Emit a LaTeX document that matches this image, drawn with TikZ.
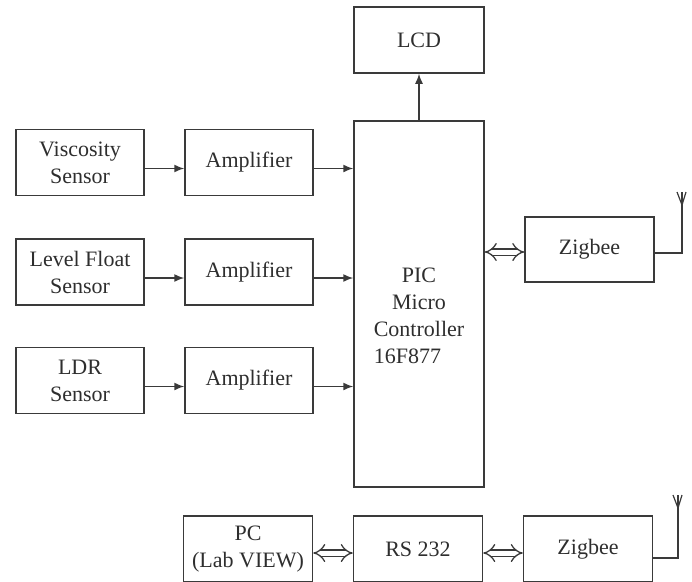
\documentclass[tikz,border=0pt]{standalone}
\usepackage{fontspec}
\setmainfont{Liberation Serif}
\usepackage{xcolor}
\definecolor{lnGray}{HTML}{3A3A3A}
\definecolor{txGray}{HTML}{2E2E2E}
\usetikzlibrary{arrows.meta,positioning}

\begin{document}
\begin{tikzpicture}[x=1pt,y=-1pt,
  blk/.style={draw=lnGray,line width=1.5pt,minimum width=128pt,minimum height=66pt,inner sep=0pt,align=center,text=txGray,font=\fontsize{22}{27}\selectfont},
  sig/.style={draw=lnGray,line width=1.5pt,-{Latex[length=10pt,width=8pt]}},
  bus/.style={draw=lnGray,line width=1.3pt,double=white,double distance=5pt,{Implies[length=8pt,width=18pt]}-{Implies[length=8pt,width=18pt]}},
  ant/.style={draw=lnGray,line width=1.5pt}]
  \useasboundingbox (0,0) rectangle (692,581);
  % sensors and amplifiers
  \node[blk] (vis) at (80,162.5) {Viscosity\\Sensor};
  \node[blk] (lvl) at (80,272) {Level Float\\Sensor};
  \node[blk] (ldr) at (80,380.5) {LDR\\Sensor};
  \node[blk] (amp1) at (249,162.5) {Amplifier};
  \node[blk] (amp2) at (249,272) {Amplifier};
  \node[blk] (amp3) at (249,380.5) {Amplifier};
  % controller
  \node[blk,minimum width=130pt,minimum height=366pt] (pic) at (419,304) {};
  \node[text=txGray,font=\fontsize{22}{27}\selectfont] (piclbl) at (419,318) {\begin{tabular}{@{}c@{}}PIC\\Micro\\Controller\\\multicolumn{1}{@{}l@{}}{16F877}\end{tabular}};
  \node[blk,minimum width=130pt] (lcd) at (419,40) {LCD};
  \node[blk,minimum width=129pt,minimum height=65pt] (zig) at (589.5,249.5) {Zigbee};
  % pc side
  \node[blk,minimum width=129pt] (pc) at (248,549) {PC\\(Lab VIEW)};
  \node[blk,minimum width=129pt] (rs) at (418,549) {RS 232};
  \node[blk,minimum width=129pt] (zigb) at (588,549) {Zigbee};
  \foreach \s/\a in {vis/amp1,lvl/amp2,ldr/amp3} {
    \draw[sig] ([yshift=-6pt]\s.east) -- ([yshift=-6pt]\a.west);
    \draw[sig] ([yshift=-6pt]\a.east) -- ([yshift=-6pt]\a.east -| pic.west);
  }
  \draw[sig] (pic.north) -- (lcd.south);
  \draw[bus] ([yshift=-2.5pt]zig.west -| pic.east) -- ([yshift=-2.5pt]zig.west);
  \draw[bus] ([yshift=-4pt]pc.east) -- ([yshift=-4pt]rs.west);
  \draw[bus] ([yshift=-4pt]rs.east) -- ([yshift=-4pt]zigb.west);
  % antennas (point of the V)
  \coordinate (ant1) at (682,205);
  \coordinate (ant2) at (678,508);
  \draw[ant] ([yshift=-3.5pt]zig.east) -| (ant1);
  \draw[ant] ([yshift=-9pt]zigb.east) -| (ant2);
  \foreach \c in {ant1,ant2} {
    \draw[ant,line width=1.2pt] ([shift={(-5pt,13pt)}]\c) -- (\c) -- ([shift={(4pt,13pt)}]\c);
    \draw[ant,line width=1.2pt] (\c) -- ([yshift=13pt]\c);
  }
\end{tikzpicture}
\end{document}
